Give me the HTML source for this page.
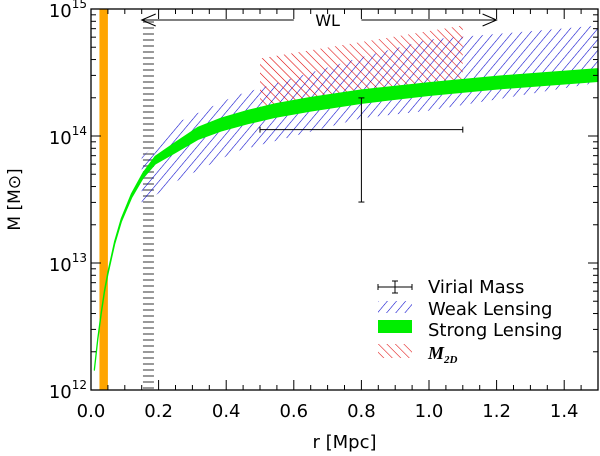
<!DOCTYPE html>
<html><head><meta charset="utf-8"><style>
body{margin:0;background:#fff}
svg{display:block;font-family:"DejaVu Sans","Liberation Sans",sans-serif}
</style></head><body>
<svg id="c" width="600" height="456" viewBox="0 0 600 456">
<defs>
<pattern id="hb" patternUnits="userSpaceOnUse" width="7" height="7" patternTransform="rotate(40)"><line x1="0" y1="0" x2="0" y2="7" stroke="#0000cc" stroke-width="1.1"/></pattern>
<pattern id="hr" patternUnits="userSpaceOnUse" width="6" height="6" patternTransform="rotate(-45)"><line x1="0" y1="0" x2="0" y2="6" stroke="#e00000" stroke-width="1.1"/></pattern>
</defs>
<g id="plot"></g>
</svg>
<script>
const wlR=[0.15,0.25,0.43,0.8,1.0,1.5];
const wlUp=[13.83,14.1,14.32,14.62,14.76,14.87];
const wlLo=[13.46,13.64,13.88,14.14,14.2,14.42];
const slR=[0.01,0.02,0.03,0.04,0.05,0.07,0.09,0.12,0.154,0.19,0.25,0.316,0.385,0.465,0.545,0.65,0.8,1.0,1.2,1.5];
const slMid=[12.16,12.4,12.6,12.78,12.92,13.16,13.34,13.53,13.69,13.81,13.91,14.02,14.09,14.15,14.2,14.25,14.31,14.37,14.42,14.48];
const slHalf=[0.004,0.005,0.006,0.007,0.008,0.01,0.012,0.016,0.02,0.03,0.04,0.047,0.05,0.052,0.053,0.053,0.052,0.05,0.05,0.05];
const m2dR=[0.5,1.1];
const m2dUp=[14.61,14.87];
const m2dLo=[14.18,14.44];
const virR=0.8, virM=14.05, virRlo=0.5, virRhi=1.1, virMlo=13.48, virMhi=14.3;
const xTicks=[0,0.2,0.4,0.6,0.8,1.0,1.2,1.4];
const xTickLabels=["0.0","0.2","0.4","0.6","0.8","1.0","1.2","1.4"];
const yTicks=[12,13,14,15];

const L=91,R=598,T=9,B=390;
const X=r=>L+(r/1.5)*(R-L);
const Y=m=>T+(15-m)*(B-T)/3;
const g=document.getElementById('plot');
const NS='http://www.w3.org/2000/svg';
function mk(t,a,p){const e=document.createElementNS(NS,t);for(const k in a)e.setAttribute(k,a[k]);(p||g).appendChild(e);return e;}

let e=mk('rect',{x:X(0.025),y:T,width:X(0.05)-X(0.025),height:B-T,fill:'#ffa500'});


e=mk('line',{x1:X(0.17),y1:T+12,x2:X(0.17),y2:B,stroke:'#999',"stroke-width":11,"stroke-dasharray":"2,4"});



function band(rs,up,lo){let p=rs.map((r,i)=>X(r)+','+Y(up[i]));for(let i=rs.length-1;i>=0;i--)p.push(X(rs[i])+','+Y(lo[i]));return p.join(' ');}
e=mk('polygon',{points:band(wlR,wlUp,wlLo),fill:'url(#hb)'});


e=mk('polygon',{points:band(m2dR,m2dUp,m2dLo),fill:'url(#hr)'});


const slUp=slMid.map((m,i)=>m+slHalf[i]),slLo=slMid.map((m,i)=>m-slHalf[i]);
e=mk('polygon',{points:band(slR,slUp,slLo),fill:'#00ee00',stroke:'#00ee00','stroke-width':1.2,'stroke-linejoin':'round'});



const vg=mk('g',{stroke:'#000','stroke-width':1});


mk('line',{x1:X(virRlo),x2:X(virRhi),y1:Y(virM),y2:Y(virM)},vg);
mk('line',{x1:X(virR),x2:X(virR),y1:Y(virMhi),y2:Y(virMlo)},vg);
mk('line',{x1:X(virRlo),x2:X(virRlo),y1:Y(virM)-3,y2:Y(virM)+3},vg);
mk('line',{x1:X(virRhi),x2:X(virRhi),y1:Y(virM)-3,y2:Y(virM)+3},vg);
mk('line',{x1:X(virR)-3,x2:X(virR)+3,y1:Y(virMhi),y2:Y(virMhi)},vg);
mk('line',{x1:X(virR)-3,x2:X(virR)+3,y1:Y(virMlo),y2:Y(virMlo)},vg);

const ag=mk('g',{stroke:'#000','stroke-width':1,fill:'none'});


const ay=20;
mk('line',{x1:X(0.15),x2:X(0.6),y1:ay,y2:ay},ag);
mk('line',{x1:X(0.8),x2:X(1.2),y1:ay,y2:ay},ag);
mk('polyline',{points:`${X(0.15)+14},${ay-6} ${X(0.15)},${ay} ${X(0.15)+14},${ay+6}`},ag);
mk('polyline',{points:`${X(1.2)-14},${ay-6} ${X(1.2)},${ay} ${X(1.2)-14},${ay+6}`},ag);
e=mk('text',{x:X(0.7),y:ay+6,'font-size':16,'text-anchor':'middle'});e.textContent='WL';



e=mk('rect',{x:L,y:T,width:R-L,height:B-T,fill:'none',stroke:'#000','stroke-width':1.3});


const tg=mk('g',{stroke:'#000','stroke-width':1});


for(let i=0;i<=30;i++){const r=i*0.05,x=X(r),len=(i%4==0)?10:5;
 mk('line',{x1:x,x2:x,y1:B,y2:B-len},tg);mk('line',{x1:x,x2:x,y1:T,y2:T+len},tg);}
for(let d=12;d<15;d++)for(let k=1;k<10;k++){const y=Y(d+Math.log10(k)),len=k==1?10:5;
 mk('line',{x1:L,x2:L+len,y1:y,y2:y},tg);mk('line',{x1:R,x2:R-len,y1:y,y2:y},tg);}
xTicks.forEach((r,i)=>{const t=mk('text',{x:X(r),y:B+27,'font-size':18,'text-anchor':'middle'});t.textContent=xTickLabels[i];
 
 });
yTicks.forEach(d=>{const t=mk('text',{x:L-4,y:Y(d)+8,'font-size':18,'text-anchor':'end'});
 t.innerHTML='10<tspan dy="-9" font-size="12">'+d+'</tspan>';
 
 });
e=mk('text',{x:(L+R)/2,y:448,'font-size':18,'text-anchor':'middle'});e.textContent='r [Mpc]';


e=mk('text',{x:0,y:0,'font-size':17,'text-anchor':'middle',transform:`translate(20,${(T+B)/2}) rotate(-90)`});e.textContent='M [M\u2299]';



const lg=mk('g',{});


const lx=378,lw=34,tx=428;
let le=mk('g',{stroke:'#000'},lg);


mk('line',{x1:lx,x2:lx+lw,y1:287,y2:287},le);mk('line',{x1:lx,x2:lx,y1:284,y2:290},le);mk('line',{x1:lx+lw,x2:lx+lw,y1:284,y2:290},le);
mk('line',{x1:lx+17,x2:lx+17,y1:281,y2:293},le);mk('line',{x1:lx+14,x2:lx+20,y1:281,y2:281},le);mk('line',{x1:lx+14,x2:lx+20,y1:293,y2:293},le);
e=mk('rect',{x:lx,y:301,width:lw,height:12,fill:'url(#hb)'},lg);


e=mk('rect',{x:lx,y:320,width:lw,height:13,fill:'#00ee00'},lg);


e=mk('rect',{x:lx,y:344,width:lw,height:14,fill:'url(#hr)'},lg);


[['Virial Mass',293],['Weak Lensing',315],['Strong Lensing',336]].forEach(a=>{const t=mk('text',{x:tx,y:a[1],'font-size':18},lg);t.textContent=a[0];
 
 });
e=mk('text',{x:tx,y:359,'font-size':18,'font-style':'italic','font-weight':'bold','font-family':'Liberation Serif,serif'},lg);
e.innerHTML='M<tspan dy="4" font-size="11">2D</tspan>';


</script>
</body></html>
